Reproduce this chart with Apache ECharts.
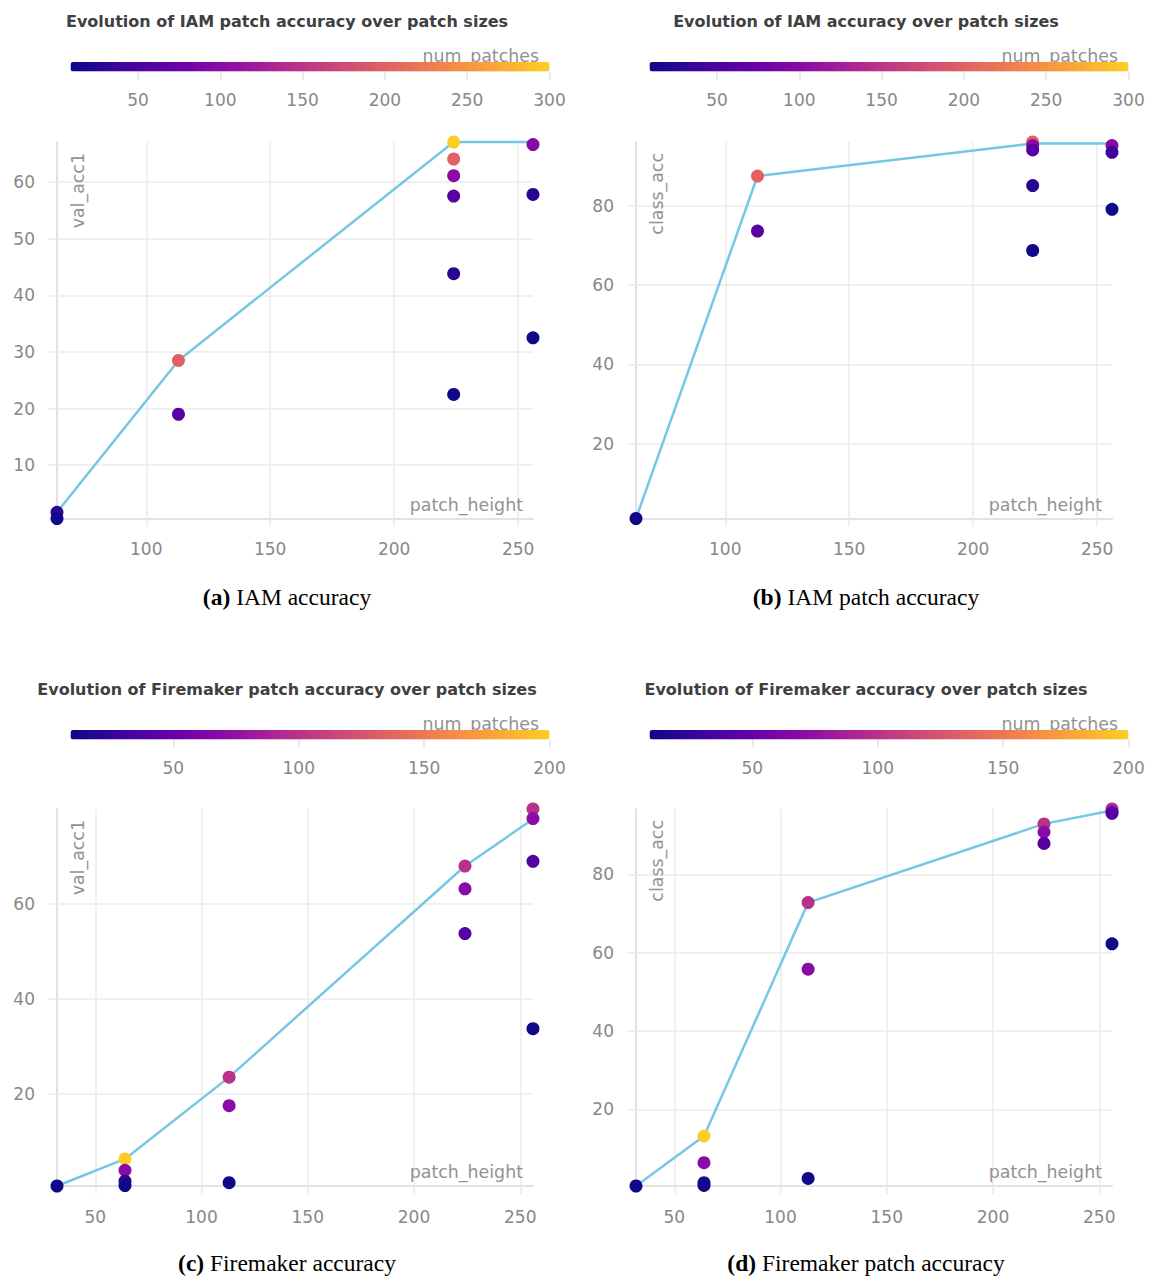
<!DOCTYPE html>
<html><head><meta charset="utf-8">
<script src="https://cdn.jsdelivr.net/npm/echarts@6/dist/echarts.min.js"></script>
<style>html,body{margin:0;padding:0;background:#fff}#c{width:1153px;height:1278px}</style>
</head><body><div id="c"></div>
<script>
// ---------- DATA ----------
// (a) IAM patch accuracy: val_acc1 vs patch_height, coloured by num_patches
const aPatchHeight = [64, 64, 113, 113, 224, 224, 224, 224, 224, 224, 256, 256, 256];
const aValAcc1     = [1.7, 0.6, 28.5, 19.0, 67.05, 64.05, 61.1, 57.5, 43.8, 22.5, 66.6, 57.8, 32.5];
const aNumPatches  = [25, 10, 200, 60, 300, 200, 100, 60, 25, 10, 100, 25, 10];
const aLineX = [64, 113, 224, 256];
const aLineY = [1.7, 28.5, 67.05, 67.05];

// (b) IAM accuracy: class_acc vs patch_height
const bPatchHeight = [64, 113, 113, 224, 224, 224, 224, 224, 256, 256, 256];
const bClassAcc    = [1.05, 87.6, 73.7, 96.2, 95.3, 94.2, 85.2, 68.8, 95.3, 93.6, 79.2];
const bNumPatches  = [10, 200, 60, 200, 100, 60, 25, 10, 100, 40, 10];
const bLineX = [64, 113, 224, 256];
const bLineY = [1.05, 87.6, 95.8, 95.8];

// (c) Firemaker patch accuracy: val_acc1 vs patch_height
const cPatchHeight = [32, 64, 64, 64, 64, 113, 113, 113, 224, 224, 224, 256, 256, 256, 256];
const cValAcc1     = [0.6, 6.3, 3.9, 1.6, 0.7, 23.5, 17.5, 1.3, 67.9, 63.1, 53.7, 79.9, 77.9, 68.9, 33.7];
const cNumPatches  = [10, 200, 70, 20, 10, 100, 70, 10, 100, 70, 40, 100, 70, 40, 10];
const cLineX = [32, 64, 113, 224, 256];
const cLineY = [0.6, 6.3, 23.5, 67.9, 77.8];

// (d) Firemaker accuracy: class_acc vs patch_height
const dPatchHeight = [32, 64, 64, 64, 64, 113, 113, 113, 224, 224, 224, 256, 256, 256, 256];
const dClassAcc    = [0.46, 13.2, 6.4, 1.3, 0.6, 72.8, 55.8, 2.4, 92.9, 90.8, 87.9, 96.7, 96.0, 95.6, 62.3];
const dNumPatches  = [10, 200, 70, 20, 10, 100, 70, 10, 100, 70, 40, 100, 70, 40, 10];
const dLineX = [32, 64, 113, 224, 256];
const dLineY = [0.46, 13.2, 72.8, 92.9, 96.3];

// tick labels
const abXTicks = [100, 150, 200, 250];
const cdXTicks = [50, 100, 150, 200, 250];
const aYTicks = [10, 20, 30, 40, 50, 60];
const bYTicks = [20, 40, 60, 80];
const cYTicks = [20, 40, 60];
const dYTicks = [20, 40, 60, 80];
const abColorTicks = [50, 100, 150, 200, 250, 300];
const cdColorTicks = [50, 100, 150, 200];
const colorMin = 9;
const abColorMax = 300;
const cdColorMax = 200;

// ---------- CHART ----------
const PLASMA = ['#0d0887','#41049d','#6a00a8','#8f0da4','#b12a90','#cc4778','#e16462','#f2844b','#fca636','#fcce25'];
const GRID_C = '#ebebeb';
const AXIS_C = '#e2e2e2';
const LABEL_C = '#888888';
const NAME_C = '#929292';
const FONT = '"DejaVu Sans", sans-serif';

const panels = [
  {title:'Evolution of IAM patch accuracy over patch sizes', yName:'val_acc1', tag:'(a)', cap:' IAM accuracy',
   x:aPatchHeight, y:aValAcc1, n:aNumPatches, lx:aLineX, ly:aLineY, xt:abXTicks, yt:aYTicks, ct:abColorTicks, cmax:abColorMax,
   dx:0, top:142, h:376.5, barTop:62, titleY:21, capY:597},
  {title:'Evolution of IAM accuracy over patch sizes', yName:'class_acc', tag:'(b)', cap:' IAM patch accuracy',
   x:bPatchHeight, y:bClassAcc, n:bNumPatches, lx:bLineX, ly:bLineY, xt:abXTicks, yt:bYTicks, ct:abColorTicks, cmax:abColorMax,
   dx:579, top:142, h:376.5, barTop:62, titleY:21, capY:597},
  {title:'Evolution of Firemaker patch accuracy over patch sizes', yName:'val_acc1', tag:'(c)', cap:' Firemaker accuracy',
   x:cPatchHeight, y:cValAcc1, n:cNumPatches, lx:cLineX, ly:cLineY, xt:cdXTicks, yt:cYTicks, ct:cdColorTicks, cmax:cdColorMax,
   dx:0, top:809, h:377, barTop:730, titleY:689, capY:1263},
  {title:'Evolution of Firemaker accuracy over patch sizes', yName:'class_acc', tag:'(d)', cap:' Firemaker patch accuracy',
   x:dPatchHeight, y:dClassAcc, n:dNumPatches, lx:dLineX, ly:dLineY, xt:cdXTicks, yt:dYTicks, ct:cdColorTicks, cmax:cdColorMax,
   dx:579, top:809, h:377, barTop:730, titleY:689, capY:1263}
];

const grid = [], xAxis = [], yAxis = [], series = [], visualMap = [], elements = [];

panels.forEach((p, i) => {
  grid.push({left:57 + p.dx, top:p.top, width:476, height:p.h, containLabel:false});
  xAxis.push({
    gridIndex:i, type:'value', min:'dataMin', max:'dataMax',
    axisLine:{show:true, onZero:false, lineStyle:{color:AXIS_C, width:2}},
    axisTick:{show:true, length:8, customValues:p.xt, lineStyle:{color:GRID_C, width:1.5}},
    axisLabel:{customValues:p.xt, margin:22, color:LABEL_C, fontSize:17, fontFamily:FONT},
    splitLine:{show:true, lineStyle:{color:GRID_C, width:1.5}}
  });
  yAxis.push({
    gridIndex:i, type:'value', min:'dataMin', max:'dataMax',
    axisLine:{show:true, onZero:false, lineStyle:{color:AXIS_C, width:2}},
    axisTick:{show:true, length:9, customValues:p.yt, lineStyle:{color:GRID_C, width:1.5}},
    axisLabel:{customValues:p.yt, margin:22, color:LABEL_C, fontSize:17, fontFamily:FONT},
    splitLine:{show:true, lineStyle:{color:GRID_C, width:1.5}}
  });
  series.push({
    type:'line', xAxisIndex:i, yAxisIndex:i, z:2, clip:false,
    data:p.lx.map((v, k) => [v, p.ly[k]]),
    showSymbol:false, symbol:'none', silent:true,
    lineStyle:{color:'#76c7e5', width:2.5}, itemStyle:{color:'#76c7e5'}
  });
  const scatterIndex = series.length;
  series.push({
    type:'scatter', xAxisIndex:i, yAxisIndex:i, z:3, clip:false,
    symbolSize:13, itemStyle:{opacity:1},
    data:p.x.map((v, k) => [v, p.y[k], p.n[k]])
  });
  visualMap.push({
    type:'continuous', seriesIndex:scatterIndex, dimension:2,
    min:colorMin, max:p.cmax, inRange:{color:PLASMA, opacity:1},
    orient:'horizontal', left:70.5 + p.dx, top:p.barTop,
    itemWidth:9.5, itemHeight:479, calculable:false, text:null, padding:0,
    hoverLink:false, z:4
  });
});

// colour-bar axes
panels.forEach((p, i) => {
  const gi = 4 + i;
  grid.push({left:70.5 + p.dx, top:p.barTop, width:479, height:9.5});
  xAxis.push({
    gridIndex:gi, type:'value', min:colorMin, max:p.cmax,
    axisLine:{show:false},
    axisTick:{show:true, length:8, customValues:p.ct, lineStyle:{color:AXIS_C, width:1.5}},
    axisLabel:{customValues:p.ct, margin:20, color:LABEL_C, fontSize:17, fontFamily:FONT},
    splitLine:{show:false}
  });
  yAxis.push({gridIndex:gi, type:'value', show:false, min:0, max:1});
});

// texts
panels.forEach((p) => {
  const dyP = p.top - 142;
  const dyB = p.barTop - 62;
  elements.push({type:'text', x:287 + p.dx, y:p.titleY, z:1,
    style:{text:p.title, fill:'#404040', font:'bold 16px ' + FONT, align:'center', verticalAlign:'middle', textAlign:'center', textVerticalAlign:'middle'}});
  elements.push({type:'text', x:539 + p.dx, y:56 + dyB, z:1,
    style:{text:'num_patches', fill:NAME_C, font:'17.4px ' + FONT, align:'right', verticalAlign:'middle', textAlign:'right', textVerticalAlign:'middle'}});
  elements.push({type:'text', x:78 + p.dx, y:153 + dyP, z:1, rotation:Math.PI / 2,
    style:{text:p.yName, fill:NAME_C, font:'17.4px ' + FONT, align:'right', verticalAlign:'middle', textAlign:'right', textVerticalAlign:'middle'}});
  elements.push({type:'text', x:523 + p.dx, y:505 + dyP, z:1,
    style:{text:'patch_height', fill:NAME_C, font:'17.4px ' + FONT, align:'right', verticalAlign:'middle', textAlign:'right', textVerticalAlign:'middle'}});
  elements.push({type:'text', x:287 + p.dx, y:p.capY, z:1,
    style:{text:'{b|' + p.tag + '}' + p.cap, fill:'#000', font:'23.5px "Liberation Serif", serif',
      align:'center', verticalAlign:'middle', textAlign:'center', textVerticalAlign:'middle',
      rich:{b:{fontWeight:'bold', fontSize:23.5, fontFamily:'"Liberation Serif", serif', fill:'#000'}}}});
});

const chart = echarts.init(document.getElementById('c'), null, {renderer:'svg'});
chart.setOption({
  animation:false,
  backgroundColor:'#ffffff',
  textStyle:{fontFamily:FONT},
  grid, xAxis, yAxis, series, visualMap,
  graphic:{elements}
});
</script>
</body></html>
